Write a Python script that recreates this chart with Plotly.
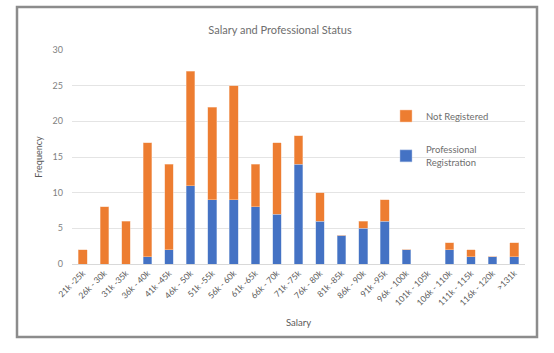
import plotly.graph_objects as go

categories = ["21k -25k", "26k - 30k", "31k -35k", "36k - 40k", "41k -45k", "46k - 50k",
              "51k -55k", "56k - 60k", "61k -65k", "66k - 70k", "71k -75k", "76k - 80k",
              "81k -85k", "86k - 90k", "91k -95k", "96k - 100k", "101k - 105k",
              "106k - 110k", "111k - 115k", "116k - 120k", ">131k"]
professional = [0, 0, 0, 1, 2, 11, 9, 9, 8, 7, 14, 6, 4, 5, 6, 2, 0, 2, 1, 1, 1]
not_registered = [2, 8, 6, 16, 12, 16, 13, 16, 6, 10, 4, 4, 0, 1, 3, 0, 0, 1, 1, 0, 2]

FONT = "Lato, Open Sans, sans-serif"
GREY = "#595959"

fig = go.Figure()
fig.add_trace(go.Bar(x=categories, y=professional, name="Professional<br>Registration",
                     marker=dict(color="#4472C4", line=dict(color="#B4C7E7", width=0.5)),
                     legend="legend2", showlegend=True))
fig.add_trace(go.Bar(x=categories, y=not_registered, name="Not Registered",
                     marker=dict(color="#ED7D31", line=dict(color="#F8CBAD", width=0.5)),
                     legend="legend", showlegend=True))

W, H = 554, 353
L, R, T, B = 72, 29, 50, 89
pw, ph = W - L - R, H - T - B

def px_x(x):
    return (x - L) / pw

def px_y(y):
    return (H - B - y) / ph

fig.update_layout(
    width=W, height=H,
    margin=dict(l=L, r=R, t=T, b=B),
    paper_bgcolor="white", plot_bgcolor="white",
    barmode="stack", bargap=0.6, showlegend=True,
    font=dict(family=FONT, color=GREY, size=9),
    title=dict(text="Salary and Professional Status", x=280 / W, xanchor="center",
               y=1 - 30 / H, yanchor="middle", xref="container", yref="container",
               font=dict(size=11, color="#6E6E6E", family=FONT)),
    xaxis=dict(tickangle=-45, tickfont=dict(size=8.5, color=GREY), showgrid=False,
               showline=True, linecolor="#D9D9D9", linewidth=1, ticks="",
               title=dict(text="Salary", font=dict(size=9.5, color=GREY), standoff=12)),
    yaxis=dict(range=[0, 30], dtick=5, showgrid=True, gridcolor="#E4E4E4", gridwidth=1,
               zeroline=False, showline=False, ticks="", ticklabelstandoff=8,
               tickfont=dict(size=9, color="#7F7F7F"),
               title=dict(text="Frequency", font=dict(size=9, color=GREY), standoff=8)),
    legend=dict(x=px_x(386), y=px_y(116), xanchor="left", yanchor="middle",
                font=dict(size=9.5, color="#6E6E6E"), bgcolor="rgba(0,0,0,0)",
                itemwidth=30, visible=True),
    legend2=dict(x=px_x(386), y=px_y(156), xanchor="left", yanchor="middle",
                 font=dict(size=9.5, color="#6E6E6E"), bgcolor="rgba(0,0,0,0)",
                 itemwidth=30, visible=True),
    shapes=[dict(type="rect", xref="paper", yref="paper",
                 x0=px_x(17), x1=px_x(537), y0=px_y(337), y1=px_y(7),
                 line=dict(color="#8C8C8C", width=2.5), fillcolor="rgba(0,0,0,0)",
                 layer="below")],
)

fig.write_html("out.html")
